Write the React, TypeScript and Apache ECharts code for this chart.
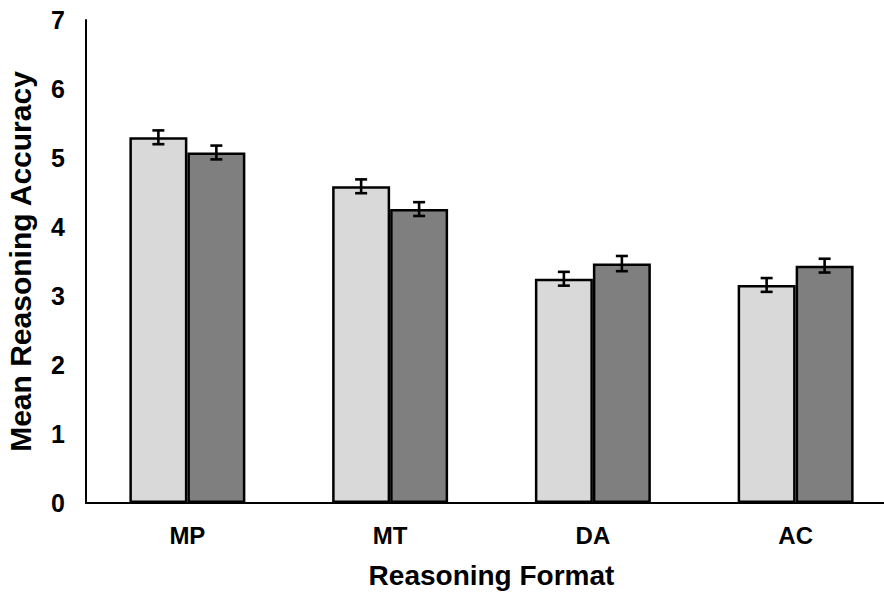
import React, { useEffect, useRef } from "react";
import * as echarts from "echarts";

const categories = ["MP", "MT", "DA", "AC"];
const seriesA = [5.3, 4.59, 3.25, 3.16];
const seriesB = [5.08, 4.26, 3.47, 3.44];
const errorsA = [0.1, 0.1, 0.1, 0.1];
const errorsB = [0.1, 0.1, 0.11, 0.1];
const yTicks = [0, 1, 2, 3, 4, 5, 6, 7];

const BAR_FRAC = 0.286;
const FONT = "'Liberation Sans', Arial, sans-serif";

function errorSeries(values: number[], errs: number[], side: number) {
  return {
    type: "custom",
    silent: true,
    z: 10,
    data: values.map((v, i) => [i, v, errs[i]]),
    renderItem: (params: any, api: any) => {
      const idx = api.value(0);
      const v = api.value(1);
      const e = api.value(2);
      const band = api.size([1, 0])[0];
      const off = (band * BAR_FRAC) / 2 * side;
      const hi = api.coord([idx, v + e]);
      const lo = api.coord([idx, v - e]);
      const x = hi[0] + off;
      const cap = 6;
      const style = { stroke: "#000", lineWidth: 2.6, fill: "none" };
      return {
        type: "group",
        children: [
          { type: "line", shape: { x1: x, y1: hi[1], x2: x, y2: lo[1] }, style },
          { type: "line", shape: { x1: x - cap, y1: hi[1], x2: x + cap, y2: hi[1] }, style },
          { type: "line", shape: { x1: x - cap, y1: lo[1], x2: x + cap, y2: lo[1] }, style },
        ],
      };
    },
  };
}

export default function App() {
  const ref = useRef<HTMLDivElement>(null);
  useEffect(() => {
    if (!ref.current) return;
    const chart = echarts.init(ref.current, undefined, { renderer: "svg" });
    chart.setOption({
      animation: false,
      backgroundColor: "#fff",
      grid: { left: 86, width: 811, top: 20, bottom: 91, outerBoundsMode: "none", containLabel: false },
      xAxis: {
        type: "category",
        data: categories,
        axisLine: { lineStyle: { color: "#000", width: 2 } },
        axisTick: { show: false },
        axisLabel: {
          color: "#000",
          fontFamily: FONT,
          fontWeight: "bold",
          fontSize: 24,
          margin: 20,
        },
        name: "Reasoning Format",
        nameLocation: "middle",
        nameGap: 58,
        nameTextStyle: { color: "#000", fontFamily: FONT, fontWeight: "bold", fontSize: 28 },
      },
      yAxis: {
        type: "value",
        min: yTicks[0],
        max: yTicks[yTicks.length - 1],
        interval: 1,
        splitLine: { show: false },
        axisTick: { show: false },
        axisLine: { show: true, lineStyle: { color: "#000", width: 2 } },
        axisLabel: {
          color: "#000",
          fontFamily: FONT,
          fontWeight: "bold",
          fontSize: 25,
          margin: 21,
        },
        name: "Mean Reasoning Accuracy",
        nameLocation: "middle",
        nameGap: 51,
        nameTextStyle: { color: "#000", fontFamily: FONT, fontWeight: "bold", fontSize: 30 },
      },
      series: [
        {
          type: "bar",
          data: seriesA,
          barWidth: BAR_FRAC * 100 + "%",
          barGap: "0%",
          itemStyle: { color: "#d9d9d9", borderColor: "#000", borderWidth: 2.5 },
        },
        {
          type: "bar",
          data: seriesB,
          barWidth: BAR_FRAC * 100 + "%",
          barGap: "0%",
          itemStyle: { color: "#7f7f7f", borderColor: "#000", borderWidth: 2.5 },
        },
        errorSeries(seriesA, errorsA, -1),
        errorSeries(seriesB, errorsB, 1),
      ],
    });
    return () => chart.dispose();
  }, []);
  return (
    <div
      ref={ref}
      style={{ position: "absolute", left: 0, top: 0, width: 884, height: 594, overflow: "hidden" }}
    />
  );
}
